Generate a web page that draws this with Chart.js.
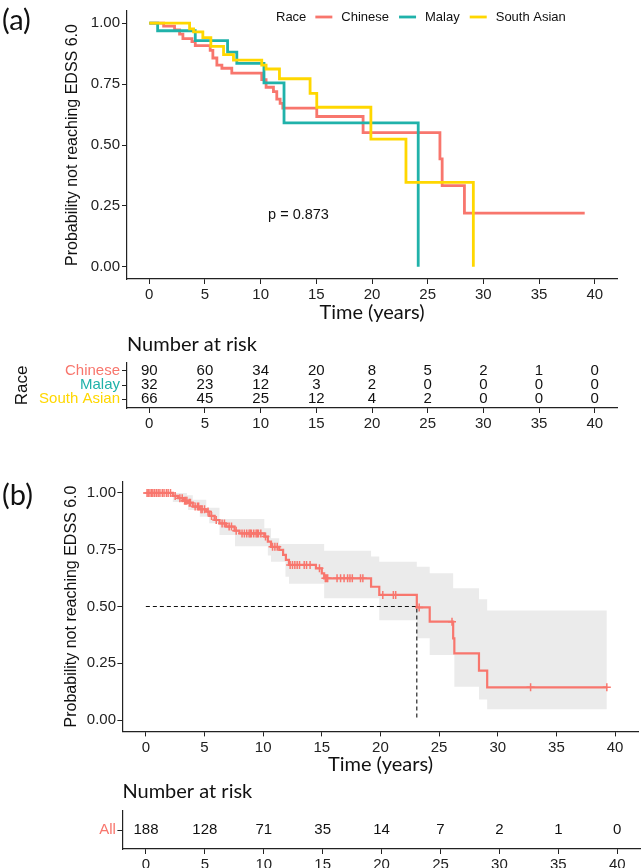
<!DOCTYPE html>
<html>
<head>
<meta charset="utf-8">
<script src="https://cdn.jsdelivr.net/npm/chart.js@4.4.0/dist/chart.umd.min.js"></script>
<style>
  body { margin: 0; background: #fff; width: 644px; height: 868px; position: relative; overflow: hidden; }
  canvas { position: absolute; left: 0; }
  .panel { position: absolute; left: 2px; font-family: Lato, sans-serif; font-size: 29px; color: #111; z-index: 5; }
</style>
</head>
<body>
<div class="panel" style="top:1px">(a)</div>
<div class="panel" style="top:476px">(b)</div>
<canvas id="kmRace" width="644" height="335" style="top:0"></canvas>
<canvas id="riskRace" width="644" height="100" style="top:330px"></canvas>
<canvas id="kmAll" width="644" height="350" style="top:440px"></canvas>
<canvas id="riskAllChart" width="644" height="98" style="top:770px"></canvas>
<script>
// --- datos ---
const xTicks = [0, 5, 10, 15, 20, 25, 30, 35, 40];
const yTicks = [0, 0.25, 0.5, 0.75, 1];
const groups = ['Chinese', 'Malay', 'South Asian'];

const chineseTimes = [0, 1.29, 2.27, 2.72, 3.02, 3.83, 4.13, 5.47, 5.71, 6.07, 6.52, 7.41, 10.1, 10.49, 11.15, 11.45, 11.75, 11.99, 15.04, 19.2, 26.1, 26.3, 28.3, 39.1];
const chineseSurv = [1, 0.988, 0.972, 0.955, 0.937, 0.924, 0.908, 0.888, 0.857, 0.828, 0.815, 0.795, 0.768, 0.737, 0.719, 0.688, 0.671, 0.651, 0.617, 0.551, 0.443, 0.333, 0.22, 0.22];
const malayTimes = [0, 0.75, 4.13, 7.03, 7.86, 10.3, 12.1, 24.15];
const malaySurv = [1, 0.969, 0.928, 0.881, 0.835, 0.755, 0.591, 0];
const southAsianTimes = [0, 3.62, 3.98, 4.81, 5.53, 6.67, 7.56, 10.1, 10.49, 11.69, 14.44, 15.04, 19.9, 23.05, 29.1];
const southAsianSurv = [1, 0.977, 0.964, 0.941, 0.905, 0.871, 0.848, 0.828, 0.812, 0.772, 0.712, 0.655, 0.524, 0.347, 0];
const pValueText = 'p = 0.873';

const riskTimes = [0, 5, 10, 15, 20, 25, 30, 35, 40];
const riskChinese = [90, 60, 34, 20, 8, 5, 2, 1, 0];
const riskMalay = [32, 23, 12, 3, 2, 0, 0, 0, 0];
const riskSouthAsian = [66, 45, 25, 12, 4, 2, 0, 0, 0];

const allTimes = [0, 2.3, 2.75, 3.17, 3.6, 4.0, 4.58, 5.15, 5.43, 5.86, 6.28, 6.85, 7.56, 7.98, 10.1, 10.4, 10.67, 11.37, 11.7, 11.94, 12.2, 14.5, 15.0, 15.2, 19.2, 19.9, 23.1, 24.2, 26.2, 26.3, 28.4, 29.1, 39.3];
const allSurv = [1, 0.987, 0.977, 0.966, 0.957, 0.94, 0.928, 0.918, 0.899, 0.881, 0.866, 0.852, 0.834, 0.822, 0.808, 0.786, 0.763, 0.749, 0.727, 0.705, 0.683, 0.668, 0.646, 0.624, 0.587, 0.551, 0.496, 0.433, 0.36, 0.294, 0.218, 0.144, 0.144];
const ciTimes = [0, 2.3, 3.5, 3.6, 4.0, 4.6, 5.15, 5.4, 6.28, 7.6, 10.1, 10.4, 10.67, 11.37, 11.9, 12.2, 15.2, 19.2, 19.9, 23.1, 24.2, 26.2, 26.3, 28.4, 29.1, 39.3];
const ciUpper = [1, 1, 0.99, 0.99, 0.97, 0.97, 0.935, 0.935, 0.885, 0.885, 0.845, 0.845, 0.8, 0.775, 0.775, 0.775, 0.745, 0.72, 0.697, 0.675, 0.646, 0.58, 0.58, 0.532, 0.482, 0.482];
const ciLower = [1, 0.96, 0.96, 0.925, 0.925, 0.895, 0.895, 0.867, 0.815, 0.765, 0.765, 0.725, 0.697, 0.697, 0.631, 0.6, 0.536, 0.536, 0.44, 0.36, 0.286, 0.286, 0.147, 0.091, 0.047, 0.047];
const censorTimes = [0.1, 0.2, 0.35, 0.5, 0.6, 0.75, 0.9, 1.05, 1.2, 1.4, 1.55, 1.75, 1.9, 2.1, 2.5, 2.9, 3.1, 3.3, 3.4, 3.5, 3.7, 3.8, 4.2, 4.4, 4.5, 4.7, 4.8, 5.0, 5.3, 5.6, 6.0, 6.5, 6.7, 7.1, 7.3, 7.7, 8.2, 8.4, 8.6, 8.8, 8.9, 9.0, 9.2, 9.4, 9.5, 9.6, 9.8, 10.2, 10.8, 11.0, 11.2, 12.3, 12.5, 12.7, 12.9, 13.1, 13.5, 13.7, 14.0, 14.8, 15.3, 15.4, 15.5, 16.3, 16.6, 16.9, 17.2, 17.4, 17.6, 18.3, 18.5, 20.2, 21.1, 21.3, 23.3, 26.1, 32.8, 39.3];
const medianTime = 23.1;
const riskAll = [188, 128, 71, 35, 14, 7, 2, 1, 0];

// --- estilos ---
const groupColors = ['#F8766D', '#20B2AA', '#FFD700'];
const AXIS = '#222';
const HELV = 'Liberation Sans';
const CALI = 'Lato';

const toPoints = (times, vals) => times.map((t, i) => ({ x: t, y: vals[i] }));
function survAt(t) {
    let s = allSurv[0];
    for (let i = 0; i < allTimes.length; i++) if (allTimes[i] <= t) s = allSurv[i];
    return s;
}

function xAxis(height, titleText, titlePad) {
    return {
        type: 'linear', min: -2, max: 42,
        afterBuildTicks: s => { s.ticks = xTicks.map(v => ({ value: v })); },
        afterFit: s => { s.height = height; },
        grid: { drawOnChartArea: false, tickLength: 5, color: AXIS },
        border: { color: AXIS, width: 1.2 },
        ticks: { font: { family: HELV, size: 15 }, color: '#222', padding: 2, maxRotation: 0, autoSkip: false },
        title: { display: !!titleText, text: titleText, font: { family: CALI, size: 20 }, color: '#111', padding: { top: 0, bottom: titlePad } }
    };
}
function yAxisKM(width, titlePad, tickPad) {
    return {
        type: 'linear', min: -0.05, max: 1.05,
        afterBuildTicks: s => { s.ticks = yTicks.map(v => ({ value: v })); },
        afterFit: s => { s.width = width; },
        grid: { drawOnChartArea: false, tickLength: 5, color: AXIS },
        border: { color: AXIS, width: 1.2 },
        ticks: { font: { family: HELV, size: 15 }, color: '#222', padding: tickPad, callback: v => v.toFixed(2) },
        title: { display: true, text: 'Probability not reaching EDSS 6.0', font: { family: HELV, size: 16 }, color: '#111', padding: { top: titlePad, bottom: 0 } }
    };
}

// --- leyenda "Race" dentro del panel (a) ---
const raceLegend = {
    id: 'raceLegend',
    afterDraw(chart) {
        const ctx = chart.ctx;
        ctx.save();
        ctx.font = '13px "' + HELV + '"';
        ctx.textBaseline = 'middle';
        ctx.fillStyle = '#111';
        let x = 276;
        const y = 17;
        ctx.fillText('Race', x, y);
        x += ctx.measureText('Race').width + 9;
        groups.forEach((g, i) => {
            ctx.strokeStyle = groupColors[i];
            ctx.lineWidth = 2.8;
            ctx.beginPath(); ctx.moveTo(x, y); ctx.lineTo(x + 17, y); ctx.stroke();
            x += 26;
            ctx.fillStyle = '#111';
            ctx.fillText(g, x, y);
            x += ctx.measureText(g).width + 10;
        });
        ctx.restore();
    }
};
const pLabel = {
    id: 'pLabel',
    afterDatasetsDraw(chart) {
        const ctx = chart.ctx;
        ctx.save();
        ctx.font = '14.5px "' + HELV + '"';
        ctx.fillStyle = '#111';
        ctx.textAlign = 'center';
        ctx.textBaseline = 'middle';
        ctx.fillText(pValueText, chart.scales.x.getPixelForValue(13.4), chart.scales.y.getPixelForValue(0.214));
        ctx.restore();
    }
};
// --- números de la tabla de riesgo ---
const riskNumbers = {
    id: 'riskNumbers',
    afterDatasetsDraw(chart) {
        const ctx = chart.ctx;
        ctx.save();
        ctx.font = '15px "' + HELV + '"';
        ctx.fillStyle = '#111';
        ctx.textAlign = 'center';
        ctx.textBaseline = 'middle';
        chart.data.datasets.forEach((ds, di) => {
            chart.getDatasetMeta(di).data.forEach((el, i) => ctx.fillText(String(ds.counts[i]), el.x, el.y));
        });
        ctx.restore();
    }
};

const common = { responsive: false, animation: false, devicePixelRatio: 1, events: [] };

// --- (a) curvas por raza ---
new Chart(document.getElementById('kmRace'), {
    type: 'line',
    data: {
        datasets: [
            { label: groups[0], data: toPoints(chineseTimes, chineseSurv), borderColor: groupColors[0] },
            { label: groups[1], data: toPoints(malayTimes, malaySurv), borderColor: groupColors[1] },
            { label: groups[2], data: toPoints(southAsianTimes, southAsianSurv), borderColor: groupColors[2] }
        ].reverse()
    },
    options: {
        ...common,
        layout: { padding: { left: 55, right: 27, top: 4.5, bottom: 0 } },
        elements: { line: { stepped: true, borderWidth: 2.8, fill: false }, point: { radius: 0 } },
        plugins: { legend: { display: false }, tooltip: { enabled: false } },
        scales: { x: xAxis(56, 'Time (years)', 10), y: yAxisKM(72, 8, 2) }
    },
    plugins: [raceLegend, pLabel]
});

// --- (a) tabla número en riesgo ---
new Chart(document.getElementById('riskRace'), {
    type: 'scatter',
    data: {
        datasets: [riskChinese, riskMalay, riskSouthAsian].map((counts, gi) => ({
            label: groups[gi],
            data: riskTimes.map(t => ({ x: t, y: 3 - gi })),
            counts: counts,
            pointRadius: 0
        }))
    },
    options: {
        ...common,
        layout: { padding: { left: 5, right: 27, top: 0, bottom: 0 } },
        plugins: {
            legend: { display: false }, tooltip: { enabled: false },
            title: { display: true, text: 'Number at risk', align: 'start', fullSize: false, font: { family: CALI, size: 20, weight: 'normal' }, color: '#111', padding: { top: 3, bottom: 6 } }
        },
        scales: {
            x: xAxis(22, '', 0),
            y: {
                type: 'linear', min: 0.36, max: 3.57,
                afterBuildTicks: s => { s.ticks = [1, 2, 3].map(v => ({ value: v })); },
                afterFit: s => { s.width = 122; },
                grid: { drawOnChartArea: false, tickLength: 5, color: AXIS },
                border: { color: AXIS, width: 1.2 },
                ticks: { font: { family: HELV, size: 15 }, padding: 2, callback: v => groups[3 - v], color: c => groupColors[3 - c.tick.value] },
                title: { display: true, text: 'Race', font: { family: HELV, size: 17 }, color: '#111', padding: { top: 7, bottom: 0 } }
            }
        }
    },
    plugins: [riskNumbers]
});

// --- (b) curva global con IC ---
new Chart(document.getElementById('kmAll'), {
    type: 'line',
    data: {
        datasets: [
            { type: 'scatter', data: censorTimes.map(t => ({ x: t, y: survAt(t) })), pointStyle: 'cross', pointRadius: 4, borderColor: groupColors[0], borderWidth: 1.5, showLine: false },
            { data: toPoints(allTimes, allSurv), borderColor: groupColors[0], borderWidth: 2.2, stepped: true, fill: false },
            { data: [{ x: 0, y: 0.5 }, { x: medianTime, y: 0.5 }, { x: medianTime, y: 0 }], borderColor: '#111', borderWidth: 1.1, borderDash: [4, 3], stepped: false, fill: false },
            { data: toPoints(ciTimes, ciUpper), borderWidth: 0, borderColor: 'rgba(0,0,0,0)', stepped: true, fill: false },
            { data: toPoints(ciTimes, ciLower), borderWidth: 0, borderColor: 'rgba(0,0,0,0)', backgroundColor: '#EBEBEB', stepped: true, fill: '-1' }
        ]
    },
    options: {
        ...common,
        layout: { padding: { left: 50, right: 3.2, top: 41.6, bottom: 0 } },
        elements: { point: { radius: 0 } },
        plugins: { legend: { display: false }, tooltip: { enabled: false } },
        scales: { x: xAxis(58.6, 'Time (years)', 13), y: yAxisKM(72.4, 11.5, 1.4) }
    }
});

// --- (b) tabla número en riesgo ---
new Chart(document.getElementById('riskAllChart'), {
    type: 'scatter',
    data: {
        datasets: [{ label: 'All', data: riskTimes.map(t => ({ x: t, y: 1 })), counts: riskAll, pointRadius: 0 }]
    },
    options: {
        ...common,
        layout: { padding: { left: 60, right: 3.2, top: 0, bottom: 0 } },
        plugins: {
            legend: { display: false }, tooltip: { enabled: false },
            title: { display: true, text: 'Number at risk', align: 'start', fullSize: false, font: { family: CALI, size: 20, weight: 'normal' }, color: '#111', padding: { top: 10, bottom: 7 } }
        },
        scales: {
            x: xAxis(19, '', 0),
            y: {
                type: 'linear', min: 0.5, max: 1.5,
                afterBuildTicks: s => { s.ticks = [{ value: 1 }]; },
                afterFit: s => { s.width = 62.4; },
                grid: { drawOnChartArea: false, tickLength: 5, color: AXIS },
                border: { color: AXIS, width: 1.2 },
                ticks: { font: { family: HELV, size: 15 }, padding: 1.5, color: groupColors[0], callback: () => 'All' }
            }
        }
    },
    plugins: [riskNumbers]
});
</script>
</body>
</html>
